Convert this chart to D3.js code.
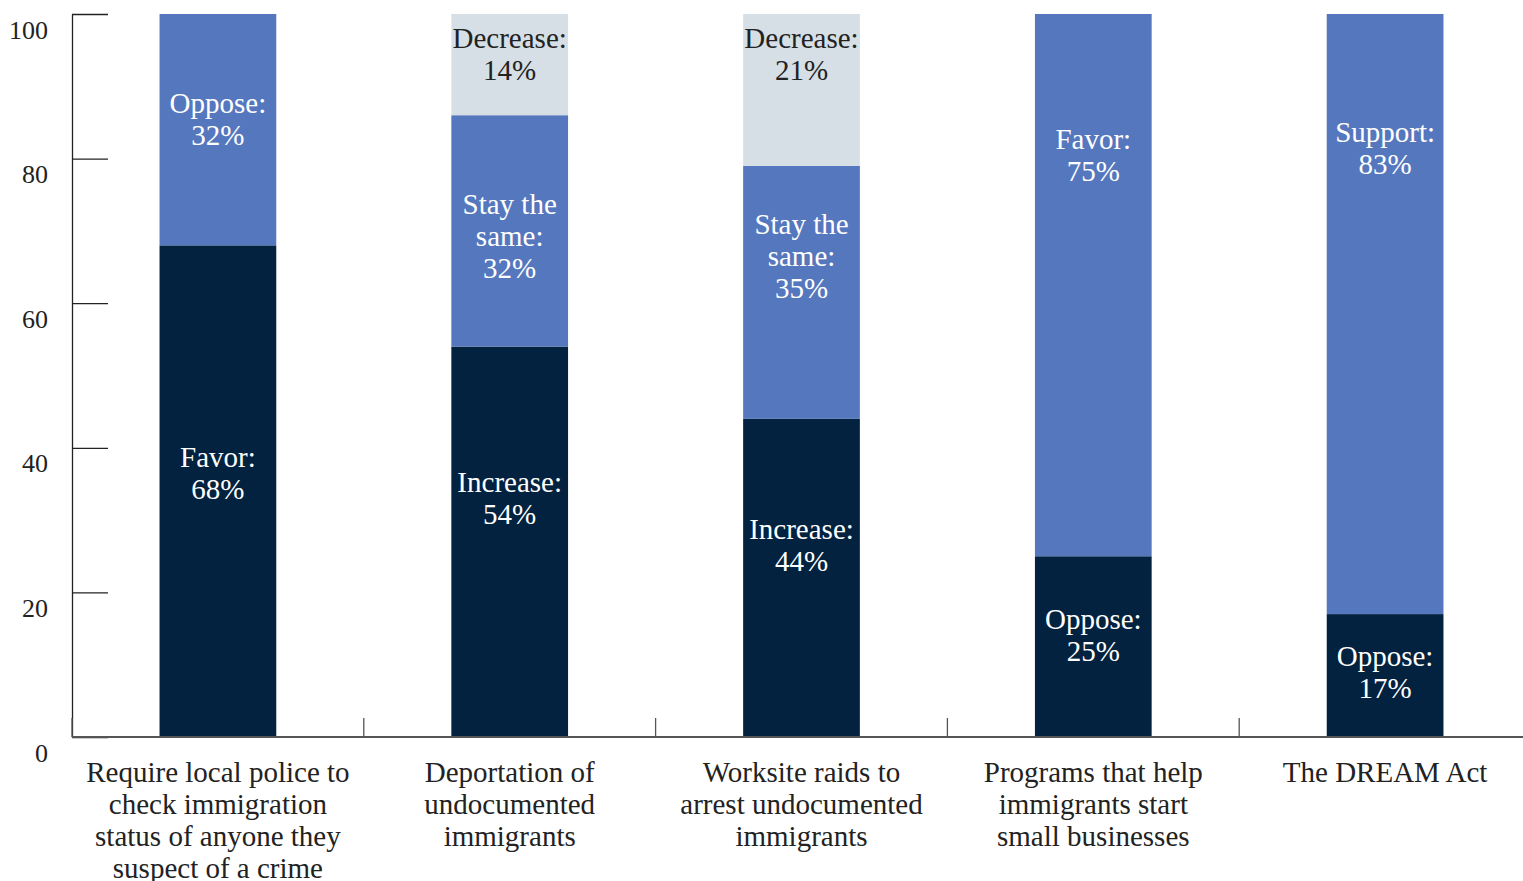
<!DOCTYPE html>
<html>
<head>
<meta charset="utf-8">
<script src="https://cdn.jsdelivr.net/npm/d3@7"></script>
<style>
    body { margin: 0; background: #fff; }
    svg { display: block; }
    text { font-family: "Liberation Serif", "Times New Roman", serif; }
</style>
</head>
<body>
<svg id="chart" width="1523" height="881"></svg>
<script>
    "use strict";

    var categories = [
        "Require local police to\ncheck immigration\nstatus of anyone they\nsuspect of a crime",
        "Deportation of\nundocumented\nimmigrants",
        "Worksite raids to\narrest undocumented\nimmigrants",
        "Programs that help\nimmigrants start\nsmall businesses",
        "The DREAM Act"
    ];

    // stacked from the bottom up
    var segmentNames = [
        ["Favor", "Oppose"],
        ["Increase", "Stay the\nsame", "Decrease"],
        ["Increase", "Stay the\nsame", "Decrease"],
        ["Oppose", "Favor"],
        ["Oppose", "Support"]
    ];

    var segmentValues = [
        [68, 32],
        [54, 32, 14],
        [44, 35, 21],
        [25, 75],
        [17, 83]
    ];

    var yTicks = [0, 20, 40, 60, 80, 100];

    // where each label block sits (percent units)
    var labelAnchors = [
        [36.4, 85.3],
        [32.9, 69.2, 94.3],
        [26.4, 66.4, 94.3],
        [14.0, 80.4],
        [8.9, 81.3]
    ];

    var margin = {top: 14, left: 72, bottom: 144},
        width = 1523,
        height = 881,
        svg = d3.select("#chart"),
        lineH = 32;

    var x = d3.scaleBand()
        .domain(d3.range(categories.length))
        .range([margin.left, 1531])
        .paddingInner(0.6)
        .paddingOuter(0.3);

    var y = d3.scaleLinear()
        .domain([0, 100])
        .range([height - margin.bottom, margin.top]);

    var fill = d3.scaleOrdinal()
        .domain([0, 1, 2])
        .range(["#02223f", "#5577be", "#d6dfe5"]);

    var ink = d3.scaleOrdinal()
        .domain([0, 1, 2])
        .range(["#ffffff", "#ffffff", "#222222"]);

    // stacked bars
    var bars = svg.append("g")
        .selectAll("g")
        .data(segmentValues)
        .enter()
        .append("g");

    bars.each(function(vals, i) {
        var g = d3.select(this),
            start = 0;
        vals.forEach(function(v, j) {
            g.append("rect")
                .attr("x", x(i))
                .attr("width", x.bandwidth())
                .attr("y", y(start + v))
                .attr("height", y(start) - y(start + v))
                .attr("fill", fill(j));
            start += v;
        });
    });

    // segment labels
    bars.each(function(vals, i) {
        var g = d3.select(this);
        vals.forEach(function(v, j) {
            var lines = (segmentNames[i][j] + ":").split("\n").concat([v + "%"]),
                cy = y(labelAnchors[i][j]),
                first = cy - (lines.length - 1) * lineH / 2 + 9;
            g.append("text")
                .attr("text-anchor", "middle")
                .attr("font-size", "29px")
                .attr("fill", ink(j))
                .selectAll("tspan")
                .data(lines)
                .enter()
                .append("tspan")
                .attr("x", x(i) + x.bandwidth() / 2)
                .attr("y", function(d, k) { return first + k * lineH; })
                .text(function(d) { return d; });
        });
    });

    // y axis, ticks point inward
    var yAxis = svg.append("g")
        .attr("transform", "translate(" + margin.left + ",0)")
        .call(d3.axisLeft(y)
            .tickValues(yTicks)
            .tickSize(-36)
            .tickSizeOuter(0)
            .tickPadding(24));

    yAxis.select(".domain").attr("stroke", "#222").attr("stroke-width", 1.3);
    yAxis.selectAll(".tick line").attr("stroke", "#222").attr("stroke-width", 1.3);
    yAxis.selectAll(".tick text")
        .attr("dy", null)
        .attr("y", 24)
        .attr("font-size", "26px")
        .attr("font-family", "Liberation Serif, serif")
        .attr("fill", "#222");

    // x axis: baseline plus separators between categories
    var base = y(0),
        step = x.step(),
        seps = [margin.left].concat(d3.range(1, categories.length).map(function(i) {
            return x(i) - (step - x.bandwidth()) / 2;
        }));

    svg.append("line")
        .attr("x1", margin.left)
        .attr("x2", width)
        .attr("y1", base)
        .attr("y2", base)
        .attr("stroke", "#555")
        .attr("stroke-width", 2);

    svg.append("g")
        .selectAll("line")
        .data(seps)
        .enter()
        .append("line")
        .attr("x1", function(d) { return d; })
        .attr("x2", function(d) { return d; })
        .attr("y1", base - 19)
        .attr("y2", base)
        .attr("stroke", "#555")
        .attr("stroke-width", 1.3);

    // category labels
    svg.append("g")
        .selectAll("text")
        .data(categories)
        .enter()
        .append("text")
        .attr("text-anchor", "middle")
        .attr("font-size", "29px")
        .attr("fill", "#222")
        .each(function(d, i) {
            d3.select(this)
                .selectAll("tspan")
                .data(d.split("\n"))
                .enter()
                .append("tspan")
                .attr("x", x(i) + x.bandwidth() / 2)
                .attr("y", function(t, k) { return base + 45 + k * lineH; })
                .text(function(t) { return t; });
        });
</script>
</body>
</html>
